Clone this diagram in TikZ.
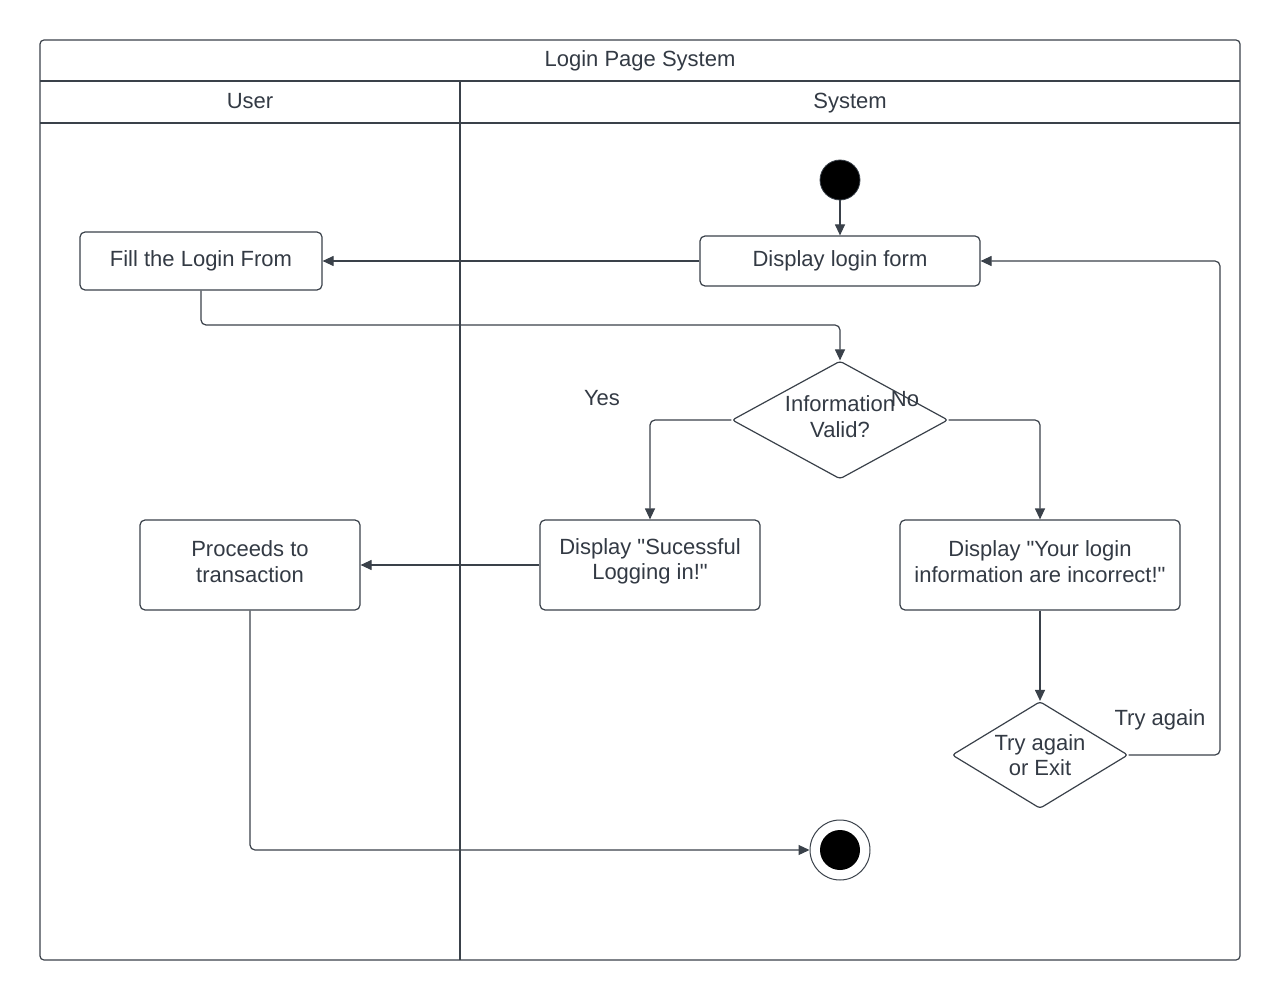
\documentclass[tikz,border=0pt]{standalone}
\usepackage{fontspec}
\setmainfont{Liberation Sans}
\usetikzlibrary{shapes.geometric,arrows.meta}
\definecolor{ink}{HTML}{3A414A}
\definecolor{txt}{HTML}{333A44}
\begin{document}
\begin{tikzpicture}[x=1pt,y=-1pt,
  every node/.style={font=\fontsize{22}{25.5}\selectfont, text=txt},
  frame/.style={draw=ink, line width=1.2pt},
  action/.style={draw=ink, line width=1.2pt, rounded corners=5pt, fill=white, align=center, inner sep=0pt},
  choice/.style={draw=ink, line width=1.2pt, shape=diamond, fill=white, inner sep=0pt, rounded corners=3pt},
  flow/.style={draw=ink, line width=1.2pt, rounded corners=5pt, -{Triangle[length=11pt,width=10pt]}},
  plain/.style={font=\fontsize{22}{25.5}\selectfont, text=txt, align=center},
  inside/.style={label={[plain, yshift=3.5pt]center:#1}}
]
\useasboundingbox (0,0) rectangle (1280,1000);

% swimlane frame
\draw[frame, rounded corners=4pt] (40,40) rectangle (1240,960);
\draw[frame] (40,81) -- (1240,81);
\draw[frame] (40,123) -- (1240,123);
\draw[frame] (460,81) -- (460,960);
\node[plain] (title) at (640,61) {Login Page System};
\node[plain] (laneuser) at (250,101) {User};
\node[plain] (lanesys) at (850,103) {System};

% start and end
\node[circle, fill=black, draw=ink, line width=0.8pt, minimum size=40pt, inner sep=0pt] (start) at (840,180) {};
\node[circle, draw=ink, line width=1pt, fill=white, minimum size=60pt, inner sep=0pt] (end) at (840,850) {};
\node[circle, fill=black, minimum size=40pt, inner sep=0pt] (endcore) at (840,850) {};

% actions
\node[action, minimum width=280pt, minimum height=50pt] (show) at (840,261) {Display login form};
\node[action, minimum width=242pt, minimum height=58pt] (fill) at (201,261) {Fill the Login From};
\node[action, minimum width=220pt, minimum height=90pt,
  inside={Display \textquotedbl Sucessful\\Logging in!\textquotedbl}] (ok) at (650,565) {};
\node[action, minimum width=280pt, minimum height=90pt,
  inside={Display \textquotedbl Your login\\information are incorrect!\textquotedbl}] (bad) at (1040,565) {};
\node[action, minimum width=220pt, minimum height=90pt,
  inside={Proceeds to\\transaction}] (proceed) at (250,565) {};

% decisions
\node[choice, minimum width=216pt, minimum height=118pt,
  inside={Information\\Valid?}] (valid) at (840,420) {};
\node[choice, minimum width=176pt, minimum height=107pt,
  label={[plain]center:Try again\\or Exit}] (again) at (1040,755) {};

% flows
\draw[flow] (start) -- (show);
\draw[flow] (show.west) -- (fill.east);
\draw[flow] (fill.south) |- (520,325) -| (valid.north);
\draw[flow] (valid.west) -| (ok.north);
\draw[flow] (valid.east) -| (bad.north);
\draw[flow] (ok.west) -- (proceed.east);
\draw[flow] (bad.south) -- (again.north);
\draw[flow] (again.east) -- (1220,755) |- (show.east);
\draw[flow] (proceed.south) |- (end.west);

% guard labels
\node[plain] (yes) at (602,398) {Yes};
\node[plain] (no) at (905,399) {No};
\node[plain] (retry) at (1160,720) {Try again};
\end{tikzpicture}
\end{document}
